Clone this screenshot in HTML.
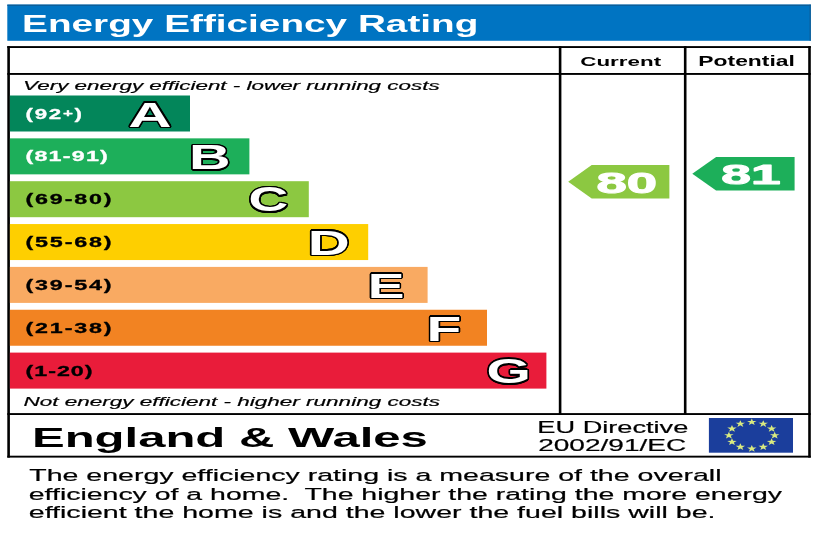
<!DOCTYPE html>
<html><head><meta charset="utf-8"><style>
html,body{margin:0;padding:0;background:#fff;width:820px;height:547px;overflow:hidden}
svg{display:block;font-family:"Liberation Sans",sans-serif;filter:blur(0.4px)}
text{white-space:pre}
</style></head><body>
<svg width="820" height="547" viewBox="0 0 820 547">
<rect x="7.3" y="4.6" width="803.5" height="36.2" fill="#0074c2"/>
<rect x="7.3" y="4.6" width="803.5" height="1.3" fill="#0d5c96"/>
<rect x="809.6" y="4.6" width="1.2" height="36.2" fill="#0d5c96"/>
<text transform="translate(22.08,31.70) scale(1.5652,1)" font-size="24.75" font-weight="bold" fill="#fff" >Energy Efficiency Rating</text>
<rect x="7.3" y="46.1" width="803.5" height="1.9" fill="#000"/>
<rect x="7.3" y="455.7" width="803.5" height="1.9" fill="#000"/>
<rect x="7.3" y="46.1" width="2.6" height="411.5" fill="#000"/>
<rect x="808.2" y="46.1" width="2.6" height="411.5" fill="#000"/>
<rect x="7.3" y="73.0" width="803.5" height="1.9" fill="#000"/>
<rect x="7.3" y="413.1" width="803.5" height="1.9" fill="#000"/>
<rect x="558.8" y="46.1" width="2.6" height="368" fill="#000"/>
<rect x="683.9" y="46.1" width="2.6" height="368" fill="#000"/>
<text transform="translate(580.30,65.60) scale(1.7488,1)" font-size="12.80" font-weight="bold" fill="#000" >Current</text>
<text transform="translate(698.37,65.80) scale(1.6559,1)" font-size="13.80" font-weight="bold" fill="#000" >Potential</text>
<text transform="translate(23.12,89.80) scale(1.7330,1)" font-size="12.94" font-style="italic" fill="#000" stroke="#000" stroke-width="0.20" stroke-linejoin="round" >Very energy efficient - lower running costs</text>
<text transform="translate(23.42,405.80) scale(1.7197,1)" font-size="13.09" font-style="italic" fill="#000" stroke="#000" stroke-width="0.20" stroke-linejoin="round" >Not energy efficient - higher running costs</text>
<rect x="9.9" y="95.50" width="180.10" height="36.0" fill="#03865a"/>
<text transform="translate(25.49,118.63) scale(1.5500,1)" font-size="14.4" font-weight="bold" letter-spacing="1.114" fill="#fff" stroke="#fff" stroke-width="0.3" stroke-linejoin="round">(92<tspan font-size="11" dy="-1.2">+</tspan><tspan dy="1.2">)</tspan></text>
<g fill="#000" font-size="35.56" font-weight="bold"><text transform="translate(129.91,126.60) scale(1.6872,1)">A</text><text transform="translate(129.79,127.21) scale(1.6872,1)">A</text><text transform="translate(129.45,127.73) scale(1.6872,1)">A</text><text transform="translate(128.93,128.08) scale(1.6872,1)">A</text><text transform="translate(128.31,128.20) scale(1.6872,1)">A</text><text transform="translate(127.70,128.08) scale(1.6872,1)">A</text><text transform="translate(127.18,127.73) scale(1.6872,1)">A</text><text transform="translate(126.84,127.21) scale(1.6872,1)">A</text><text transform="translate(126.71,126.60) scale(1.6872,1)">A</text><text transform="translate(126.84,125.99) scale(1.6872,1)">A</text><text transform="translate(127.18,125.47) scale(1.6872,1)">A</text><text transform="translate(127.70,125.12) scale(1.6872,1)">A</text><text transform="translate(128.31,125.00) scale(1.6872,1)">A</text><text transform="translate(128.93,125.12) scale(1.6872,1)">A</text><text transform="translate(129.45,125.47) scale(1.6872,1)">A</text><text transform="translate(129.79,125.99) scale(1.6872,1)">A</text></g><text transform="translate(128.31,126.60) scale(1.6872,1)" font-size="35.56" font-weight="bold" fill="#fff" >A</text>
<rect x="9.9" y="138.35" width="239.50" height="36.0" fill="#1daf5a"/>
<text transform="translate(25.45,161.48) scale(1.6200,1)" font-size="14.4" font-weight="bold" letter-spacing="0.746" fill="#fff" stroke="#fff" stroke-width="0.3" stroke-linejoin="round">(81-91)</text>
<g fill="#000" font-size="35.99" font-weight="bold"><text transform="translate(190.60,169.20) scale(1.6005,1)">B</text><text transform="translate(190.48,169.81) scale(1.6005,1)">B</text><text transform="translate(190.13,170.33) scale(1.6005,1)">B</text><text transform="translate(189.61,170.68) scale(1.6005,1)">B</text><text transform="translate(189.00,170.80) scale(1.6005,1)">B</text><text transform="translate(188.39,170.68) scale(1.6005,1)">B</text><text transform="translate(187.87,170.33) scale(1.6005,1)">B</text><text transform="translate(187.52,169.81) scale(1.6005,1)">B</text><text transform="translate(187.40,169.20) scale(1.6005,1)">B</text><text transform="translate(187.52,168.59) scale(1.6005,1)">B</text><text transform="translate(187.87,168.07) scale(1.6005,1)">B</text><text transform="translate(188.39,167.72) scale(1.6005,1)">B</text><text transform="translate(189.00,167.60) scale(1.6005,1)">B</text><text transform="translate(189.61,167.72) scale(1.6005,1)">B</text><text transform="translate(190.13,168.07) scale(1.6005,1)">B</text><text transform="translate(190.48,168.59) scale(1.6005,1)">B</text></g><text transform="translate(189.00,169.20) scale(1.6005,1)" font-size="35.99" font-weight="bold" fill="#fff" >B</text>
<rect x="9.9" y="181.20" width="298.90" height="36.0" fill="#8cc841"/>
<text transform="translate(25.45,204.33) scale(1.6200,1)" font-size="14.4" font-weight="bold" letter-spacing="1.127" fill="#000" stroke="#000" stroke-width="0.3" stroke-linejoin="round">(69-80)</text>
<g fill="#000" font-size="34.98" font-weight="bold"><text transform="translate(250.18,211.45) scale(1.5744,1)">C</text><text transform="translate(250.06,212.07) scale(1.5744,1)">C</text><text transform="translate(249.71,212.59) scale(1.5744,1)">C</text><text transform="translate(249.19,212.93) scale(1.5744,1)">C</text><text transform="translate(248.58,213.05) scale(1.5744,1)">C</text><text transform="translate(247.97,212.93) scale(1.5744,1)">C</text><text transform="translate(247.45,212.59) scale(1.5744,1)">C</text><text transform="translate(247.10,212.07) scale(1.5744,1)">C</text><text transform="translate(246.98,211.45) scale(1.5744,1)">C</text><text transform="translate(247.10,210.84) scale(1.5744,1)">C</text><text transform="translate(247.45,210.32) scale(1.5744,1)">C</text><text transform="translate(247.97,209.98) scale(1.5744,1)">C</text><text transform="translate(248.58,209.85) scale(1.5744,1)">C</text><text transform="translate(249.19,209.98) scale(1.5744,1)">C</text><text transform="translate(249.71,210.32) scale(1.5744,1)">C</text><text transform="translate(250.06,210.84) scale(1.5744,1)">C</text></g><text transform="translate(248.58,211.45) scale(1.5744,1)" font-size="34.98" font-weight="bold" fill="#fff" >C</text>
<rect x="9.9" y="224.05" width="358.30" height="36.0" fill="#fecf00"/>
<text transform="translate(25.45,247.18) scale(1.6200,1)" font-size="14.4" font-weight="bold" letter-spacing="1.127" fill="#000" stroke="#000" stroke-width="0.3" stroke-linejoin="round">(55-68)</text>
<g fill="#000" font-size="35.35" font-weight="bold"><text transform="translate(309.26,254.70) scale(1.6476,1)">D</text><text transform="translate(309.14,255.31) scale(1.6476,1)">D</text><text transform="translate(308.79,255.83) scale(1.6476,1)">D</text><text transform="translate(308.27,256.18) scale(1.6476,1)">D</text><text transform="translate(307.66,256.30) scale(1.6476,1)">D</text><text transform="translate(307.05,256.18) scale(1.6476,1)">D</text><text transform="translate(306.53,255.83) scale(1.6476,1)">D</text><text transform="translate(306.18,255.31) scale(1.6476,1)">D</text><text transform="translate(306.06,254.70) scale(1.6476,1)">D</text><text transform="translate(306.18,254.09) scale(1.6476,1)">D</text><text transform="translate(306.53,253.57) scale(1.6476,1)">D</text><text transform="translate(307.05,253.22) scale(1.6476,1)">D</text><text transform="translate(307.66,253.10) scale(1.6476,1)">D</text><text transform="translate(308.27,253.22) scale(1.6476,1)">D</text><text transform="translate(308.79,253.57) scale(1.6476,1)">D</text><text transform="translate(309.14,254.09) scale(1.6476,1)">D</text></g><text transform="translate(307.66,254.70) scale(1.6476,1)" font-size="35.35" font-weight="bold" fill="#fff" >D</text>
<rect x="9.9" y="266.90" width="417.70" height="36.0" fill="#f9aa62"/>
<text transform="translate(25.45,290.03) scale(1.6200,1)" font-size="14.4" font-weight="bold" letter-spacing="1.127" fill="#000" stroke="#000" stroke-width="0.3" stroke-linejoin="round">(39-54)</text>
<g fill="#000" font-size="35.42" font-weight="bold"><text transform="translate(369.26,297.75) scale(1.5530,1)">E</text><text transform="translate(369.14,298.36) scale(1.5530,1)">E</text><text transform="translate(368.79,298.88) scale(1.5530,1)">E</text><text transform="translate(368.27,299.23) scale(1.5530,1)">E</text><text transform="translate(367.66,299.35) scale(1.5530,1)">E</text><text transform="translate(367.05,299.23) scale(1.5530,1)">E</text><text transform="translate(366.53,298.88) scale(1.5530,1)">E</text><text transform="translate(366.18,298.36) scale(1.5530,1)">E</text><text transform="translate(366.06,297.75) scale(1.5530,1)">E</text><text transform="translate(366.18,297.14) scale(1.5530,1)">E</text><text transform="translate(366.53,296.62) scale(1.5530,1)">E</text><text transform="translate(367.05,296.27) scale(1.5530,1)">E</text><text transform="translate(367.66,296.15) scale(1.5530,1)">E</text><text transform="translate(368.27,296.27) scale(1.5530,1)">E</text><text transform="translate(368.79,296.62) scale(1.5530,1)">E</text><text transform="translate(369.14,297.14) scale(1.5530,1)">E</text></g><text transform="translate(367.66,297.75) scale(1.5530,1)" font-size="35.42" font-weight="bold" fill="#fff" >E</text>
<rect x="9.9" y="309.75" width="477.10" height="36.0" fill="#f28322"/>
<text transform="translate(25.45,332.88) scale(1.6200,1)" font-size="14.4" font-weight="bold" letter-spacing="1.127" fill="#000" stroke="#000" stroke-width="0.3" stroke-linejoin="round">(21-38)</text>
<g fill="#000" font-size="35.78" font-weight="bold"><text transform="translate(428.21,340.75) scale(1.5901,1)">F</text><text transform="translate(428.09,341.36) scale(1.5901,1)">F</text><text transform="translate(427.75,341.88) scale(1.5901,1)">F</text><text transform="translate(427.23,342.23) scale(1.5901,1)">F</text><text transform="translate(426.61,342.35) scale(1.5901,1)">F</text><text transform="translate(426.00,342.23) scale(1.5901,1)">F</text><text transform="translate(425.48,341.88) scale(1.5901,1)">F</text><text transform="translate(425.14,341.36) scale(1.5901,1)">F</text><text transform="translate(425.01,340.75) scale(1.5901,1)">F</text><text transform="translate(425.14,340.14) scale(1.5901,1)">F</text><text transform="translate(425.48,339.62) scale(1.5901,1)">F</text><text transform="translate(426.00,339.27) scale(1.5901,1)">F</text><text transform="translate(426.61,339.15) scale(1.5901,1)">F</text><text transform="translate(427.23,339.27) scale(1.5901,1)">F</text><text transform="translate(427.75,339.62) scale(1.5901,1)">F</text><text transform="translate(428.09,340.14) scale(1.5901,1)">F</text></g><text transform="translate(426.61,340.75) scale(1.5901,1)" font-size="35.78" font-weight="bold" fill="#fff" >F</text>
<rect x="9.9" y="352.60" width="536.50" height="36.0" fill="#e91c3a"/>
<text transform="translate(25.45,375.73) scale(1.6200,1)" font-size="14.4" font-weight="bold" letter-spacing="0.608" fill="#000" stroke="#000" stroke-width="0.3" stroke-linejoin="round">(1-20)</text>
<g fill="#000" font-size="34.77" font-weight="bold"><text transform="translate(488.17,383.06) scale(1.6419,1)">G</text><text transform="translate(488.04,383.67) scale(1.6419,1)">G</text><text transform="translate(487.70,384.19) scale(1.6419,1)">G</text><text transform="translate(487.18,384.54) scale(1.6419,1)">G</text><text transform="translate(486.57,384.66) scale(1.6419,1)">G</text><text transform="translate(485.95,384.54) scale(1.6419,1)">G</text><text transform="translate(485.43,384.19) scale(1.6419,1)">G</text><text transform="translate(485.09,383.67) scale(1.6419,1)">G</text><text transform="translate(484.97,383.06) scale(1.6419,1)">G</text><text transform="translate(485.09,382.45) scale(1.6419,1)">G</text><text transform="translate(485.43,381.93) scale(1.6419,1)">G</text><text transform="translate(485.95,381.58) scale(1.6419,1)">G</text><text transform="translate(486.57,381.46) scale(1.6419,1)">G</text><text transform="translate(487.18,381.58) scale(1.6419,1)">G</text><text transform="translate(487.70,381.93) scale(1.6419,1)">G</text><text transform="translate(488.04,382.45) scale(1.6419,1)">G</text></g><text transform="translate(486.57,383.06) scale(1.6419,1)" font-size="34.77" font-weight="bold" fill="#fff" >G</text>
<polygon points="568.2,181.75 591.7,165.1 669.4,165.1 669.4,198.4 591.7,198.4" fill="#8cc841"/>
<text transform="translate(596.52,192.64) scale(1.8497,1)" font-size="29.49" font-weight="bold" fill="#fff" stroke="#fff" stroke-width="1.00" stroke-linejoin="round" >80</text>
<polygon points="692.3,173.75 716.1,157.1 794.6,157.1 794.6,190.4 716.1,190.4" fill="#1daf5a"/>
<text transform="translate(721.37,184.26) scale(1.8795,1)" font-size="28.37" font-weight="bold" fill="#fff" stroke="#fff" stroke-width="1.00" stroke-linejoin="round" >81</text>
<text transform="translate(31.93,447.00) scale(1.7647,1)" font-size="27.79" font-weight="bold" fill="#000" >England &amp; Wales</text>
<text transform="translate(537.34,432.90) scale(1.5996,1)" font-size="17.00"  fill="#000" stroke="#000" stroke-width="0.20" stroke-linejoin="round" >EU Directive</text>
<text transform="translate(538.15,450.63) scale(1.6500,1)" font-size="17.00"  fill="#000" stroke="#000" stroke-width="0.20" stroke-linejoin="round" >2002/91/EC</text>
<rect x="708.9" y="418" width="84.1" height="34.7" fill="#1b3e9c"/>
<polygon points="751.80,418.40 752.97,420.90 756.55,420.96 753.70,422.56 754.74,425.09 751.80,423.58 748.86,425.09 749.90,422.56 747.05,420.96 750.63,420.90" fill="#d9ea80"/>
<polygon points="763.25,420.18 764.42,422.68 768.00,422.74 765.15,424.34 766.19,426.88 763.25,425.36 760.31,426.88 761.35,424.34 758.50,422.74 762.08,422.68" fill="#d9ea80"/>
<polygon points="771.63,425.05 772.81,427.55 776.38,427.61 773.53,429.21 774.57,431.74 771.63,430.23 768.70,431.74 769.73,429.21 766.88,427.61 770.46,427.55" fill="#d9ea80"/>
<polygon points="774.70,431.70 775.87,434.20 779.45,434.26 776.60,435.86 777.64,438.39 774.70,436.88 771.76,438.39 772.80,435.86 769.95,434.26 773.53,434.20" fill="#d9ea80"/>
<polygon points="771.63,438.35 772.81,440.85 776.38,440.91 773.53,442.51 774.57,445.04 771.63,443.53 768.70,445.04 769.73,442.51 766.88,440.91 770.46,440.85" fill="#d9ea80"/>
<polygon points="763.25,443.22 764.42,445.72 768.00,445.77 765.15,447.38 766.19,449.91 763.25,448.40 760.31,449.91 761.35,447.38 758.50,445.77 762.08,445.72" fill="#d9ea80"/>
<polygon points="751.80,445.00 752.97,447.50 756.55,447.56 753.70,449.16 754.74,451.69 751.80,450.18 748.86,451.69 749.90,449.16 747.05,447.56 750.63,447.50" fill="#d9ea80"/>
<polygon points="740.35,443.22 741.52,445.72 745.10,445.77 742.25,447.38 743.29,449.91 740.35,448.40 737.41,449.91 738.45,447.38 735.60,445.77 739.18,445.72" fill="#d9ea80"/>
<polygon points="731.97,438.35 733.14,440.85 736.72,440.91 733.87,442.51 734.90,445.04 731.97,443.53 729.03,445.04 730.07,442.51 727.22,440.91 730.79,440.85" fill="#d9ea80"/>
<polygon points="728.90,431.70 730.07,434.20 733.65,434.26 730.80,435.86 731.84,438.39 728.90,436.88 725.96,438.39 727.00,435.86 724.15,434.26 727.73,434.20" fill="#d9ea80"/>
<polygon points="731.97,425.05 733.14,427.55 736.72,427.61 733.87,429.21 734.90,431.74 731.97,430.23 729.03,431.74 730.07,429.21 727.22,427.61 730.79,427.55" fill="#d9ea80"/>
<polygon points="740.35,420.18 741.52,422.68 745.10,422.74 742.25,424.34 743.29,426.88 740.35,425.36 737.41,426.88 738.45,424.34 735.60,422.74 739.18,422.68" fill="#d9ea80"/>
<text transform="translate(29.22,480.90) scale(1.6982,1)" font-size="16.80"  fill="#000" stroke="#000" stroke-width="0.20" stroke-linejoin="round" >The energy efficiency rating is a measure of the overall</text>
<text transform="translate(28.78,499.80) scale(1.6933,1)" font-size="16.80"  fill="#000" stroke="#000" stroke-width="0.20" stroke-linejoin="round" >efficiency of a home.  The higher the rating the more energy</text>
<text transform="translate(28.78,518.30) scale(1.7004,1)" font-size="16.80"  fill="#000" stroke="#000" stroke-width="0.20" stroke-linejoin="round" >efficient the home is and the lower the fuel bills will be.</text>
</svg>
</body></html>
